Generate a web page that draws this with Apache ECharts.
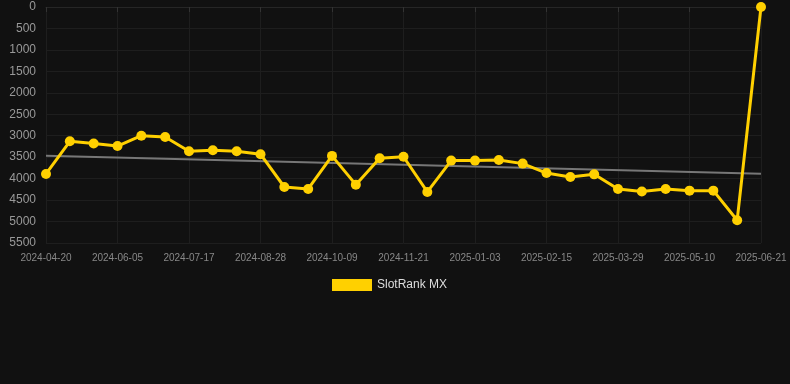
<!DOCTYPE html>
<html><head><meta charset="utf-8">
<script src="https://cdn.jsdelivr.net/npm/echarts@6/dist/echarts.min.js"></script>
<style>html,body{margin:0;padding:0;background:#111111;}#c{width:790px;height:384px;}</style>
</head><body><div id="c"></div>
<script>
const dates = ["2024-04-20","2024-05-06","2024-05-21","2024-06-05","2024-06-19","2024-07-03","2024-07-17","2024-07-31","2024-08-14","2024-08-28","2024-09-11","2024-09-25","2024-10-09","2024-10-23","2024-11-07","2024-11-21","2024-12-05","2024-12-19","2025-01-03","2025-01-17","2025-01-31","2025-02-15","2025-03-01","2025-03-15","2025-03-29","2025-04-12","2025-04-26","2025-05-10","2025-05-24","2025-06-07","2025-06-21"];
const rankValues = [3890,3130,3180,3240,3000,3030,3360,3340,3360,3430,4195,4240,3470,4140,3525,3490,4310,3580,3580,3565,3650,3870,3960,3900,4240,4300,4240,4280,4280,4970,0];
const trendValues = [3465,null,null,null,null,null,null,null,null,null,null,null,null,null,null,null,null,null,null,null,null,null,null,null,null,null,null,null,null,null,3885];
const yTicks = {min:0, max:5500, interval:500};
const seriesName = "SlotRank MX";

const chart = echarts.init(document.getElementById('c'));
chart.setOption({
  backgroundColor: '#111111',
  animation: false,
  grid: {left: 46, right: 29, top: 7, bottom: 141, containLabel: false},
  legend: {
    data: [seriesName], bottom: 88, left: 327,
    itemWidth: 40, itemHeight: 12, itemGap: 10,
    icon: 'rect',
    textStyle: {color: '#dddddd', fontSize: 12, fontFamily: 'Arial, Liberation Sans, sans-serif'}
  },
  xAxis: {
    type: 'category', data: dates, boundaryGap: false,
    axisLine: {show: true, lineStyle: {color: '#262626'}},
    axisTick: {show: true, interval: 2, lineStyle: {color: '#333'}},
    axisLabel: {interval: 2, color: '#888888', fontSize: 10, margin: 10, fontFamily: 'Arial, Liberation Sans, sans-serif'},
    splitLine: {show: true, interval: 2, lineStyle: {color: '#1e1e1e'}}
  },
  yAxis: {
    type: 'value', inverse: true, min: yTicks.min, max: yTicks.max, interval: yTicks.interval,
    axisLine: {show: false}, axisTick: {show: false},
    axisLabel: {color: '#999999', fontSize: 12, margin: 10, formatter: function(v){return String(v);}, fontFamily: 'Arial, Liberation Sans, sans-serif'},
    splitLine: {show: true, lineStyle: {color: '#1e1e1e'}}
  },
  series: [
    {
      name: 'trend', type: 'line', data: trendValues, connectNulls: true,
      symbol: 'none', lineStyle: {color: '#777777', width: 2}, z: 1, silent: true
    },
    {
      name: seriesName, type: 'line', data: rankValues,
      symbol: 'circle', symbolSize: 10,
      itemStyle: {color: '#FFD000'},
      lineStyle: {color: '#FFD000', width: 3}, z: 2
    }
  ]
});
</script></body></html>
